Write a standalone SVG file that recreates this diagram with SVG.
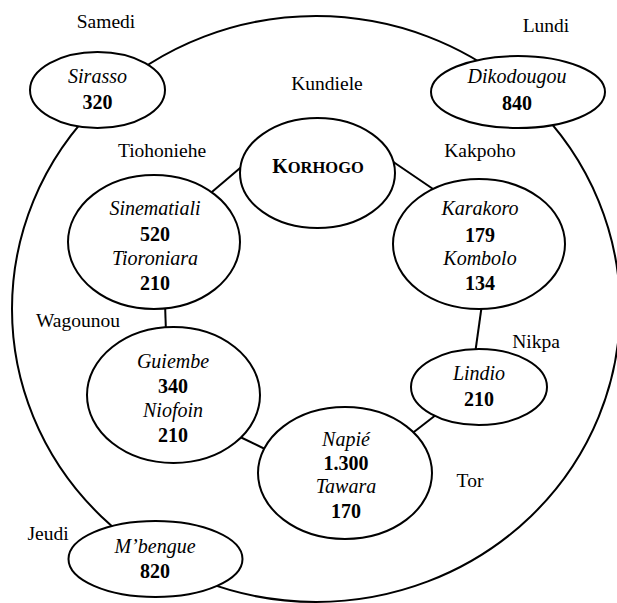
<svg xmlns="http://www.w3.org/2000/svg" width="617" height="603" viewBox="0 0 617 603">
<style>
.bg{fill:#fff}
.ring{fill:none;stroke:#000;stroke-width:2}
.link{stroke:#000;stroke-width:2;fill:none}
.node{fill:#fff;stroke:#000;stroke-width:2}
text{font-family:"Liberation Serif","Times New Roman",serif;font-size:20px;fill:#000;text-anchor:middle}
.name{font-style:italic}
.num{font-weight:bold}
.lbl{font-size:19.5px}
</style>
<rect class="bg" x="0" y="0" width="617" height="603"/>
<g id="connectors">
<ellipse class="ring" cx="316" cy="309" rx="304" ry="293"/>
<line class="link" x1="246" y1="163" x2="206" y2="197"/>
<line class="link" x1="389" y1="159" x2="436" y2="191"/>
<line class="link" x1="482" y1="304" x2="475" y2="354"/>
<line class="link" x1="441" y1="411" x2="410" y2="435"/>
<line class="link" x1="269" y1="451" x2="236" y2="435"/>
<line class="link" x1="165" y1="303" x2="166" y2="333"/>
</g>
<g id="labels">
<text class="lbl" x="106" y="28">Samedi</text>
<text class="lbl" x="546" y="32">Lundi</text>
<text class="lbl" x="327" y="90">Kundiele</text>
<text class="lbl" x="162" y="157">Tiohoniehe</text>
<text class="lbl" x="480" y="157">Kakpoho</text>
<text class="lbl" x="78" y="327">Wagounou</text>
<text class="lbl" x="536" y="348">Nikpa</text>
<text class="lbl" x="470" y="487">Tor</text>
<text class="lbl" x="48" y="540">Jeudi</text>
</g>
<g id="sirasso">
<ellipse class="node" cx="97.5" cy="90" rx="67.5" ry="38"/>
<text class="name" x="97.5" y="83">Sirasso</text>
<text class="num" x="97.5" y="109">320</text>
</g>
<g id="dikodougou">
<ellipse class="node" cx="518" cy="92" rx="87" ry="36"/>
<text class="name" x="517" y="83">Dikodougou</text>
<text class="num" x="517" y="110">840</text>
</g>
<g id="korhogo">
<ellipse class="node" cx="317.5" cy="173" rx="77.5" ry="55"/>
<text class="num" x="318" y="173"><tspan>K</tspan><tspan font-size="16.5">ORHOGO</tspan></text>
</g>
<g id="sinematiali">
<ellipse class="node" cx="154" cy="242" rx="86" ry="67"/>
<text class="name" x="155" y="215">Sinematiali</text>
<text class="num" x="155" y="241">520</text>
<text class="name" x="155" y="265">Tioroniara</text>
<text class="num" x="155" y="290">210</text>
</g>
<g id="karakoro">
<ellipse class="node" cx="479" cy="244" rx="86" ry="65"/>
<text class="name" x="480" y="215">Karakoro</text>
<text class="num" x="480" y="242">179</text>
<text class="name" x="480" y="265">Kombolo</text>
<text class="num" x="480" y="290">134</text>
</g>
<g id="guiembe">
<ellipse class="node" cx="173.5" cy="395" rx="86.5" ry="68"/>
<text class="name" x="173" y="368">Guiembe</text>
<text class="num" x="173" y="393">340</text>
<text class="name" x="173" y="417">Niofoin</text>
<text class="num" x="173" y="442">210</text>
</g>
<g id="lindio">
<ellipse class="node" cx="479" cy="387" rx="68" ry="38"/>
<text class="name" x="479" y="380">Lindio</text>
<text class="num" x="479" y="406">210</text>
</g>
<g id="napie">
<ellipse class="node" cx="345" cy="473" rx="87" ry="66"/>
<text class="name" x="346" y="446">Napié</text>
<text class="num" x="346" y="470">1.300</text>
<text class="name" x="346" y="493">Tawara</text>
<text class="num" x="346" y="518">170</text>
</g>
<g id="mbengue">
<ellipse class="node" cx="155.5" cy="559" rx="87" ry="38"/>
<text class="name" x="155" y="553">M’bengue</text>
<text class="num" x="155" y="578">820</text>
</g>
</svg>
